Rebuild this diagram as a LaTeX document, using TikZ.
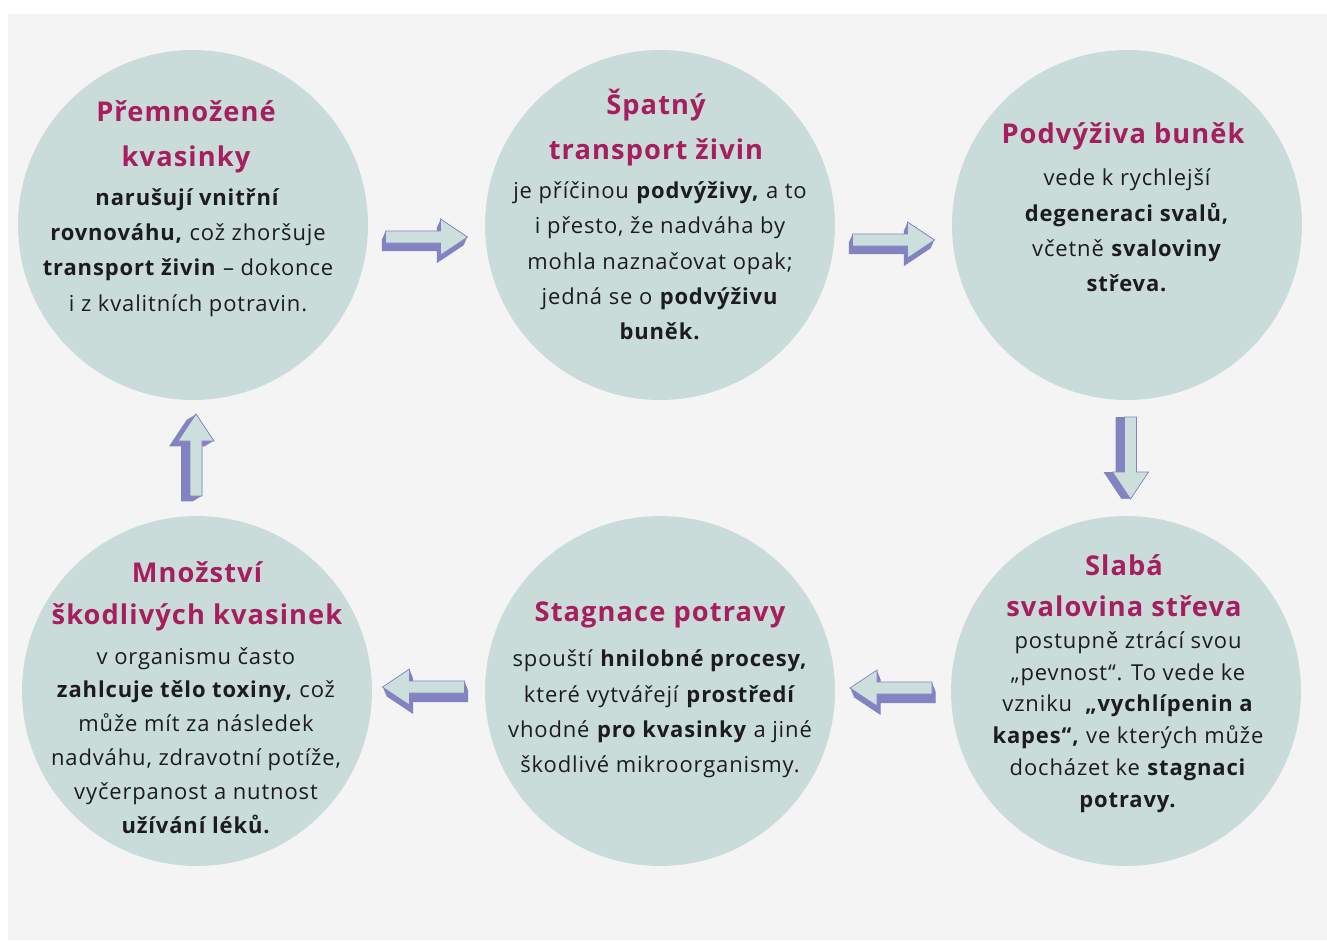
\documentclass[tikz,border=0pt]{standalone}
\usepackage{fontspec}
\setmainfont[LetterSpace=4]{Open Sans}
\usetikzlibrary{calc}

\definecolor{bgcol}{HTML}{F3F4F3}
\definecolor{bubblecol}{HTML}{C9DCDA}
\definecolor{headcol}{HTML}{A61E5E}
\definecolor{inkcol}{HTML}{1C1C1C}
\definecolor{facecol}{HTML}{CDDFDD}
\definecolor{sidecol}{HTML}{8383C2}

% 3D block arrow: centre, rotation, depth offset
\newcommand{\blockarrow}[4]{%
  \foreach \t in {0,0.1,...,1}
    \fill[sidecol, shift={($(#1)+\t*(#3,#4)$)}, rotate=#2]
      (-41,-6) -- (14,-6) -- (14,-18) -- (41,0) -- (14,18) -- (14,6) -- (-41,6) -- cycle;
  \filldraw[fill=facecol, draw=sidecol, line width=0.4pt, shift={(#1)}, rotate=#2]
      (-41,-6) -- (14,-6) -- (14,-18) -- (41,0) -- (14,18) -- (14,6) -- (-41,6) -- cycle;
}

\tikzset{
  bubble/.style={circle, fill=bubblecol, minimum size=7cm, inner sep=0pt},
  bubbletitle/.style={font=\fontsize{15.5}{#1}\selectfont\bfseries, text=headcol, align=center, inner sep=0pt},
  bubbletitle/.default=25.5,
  bubbletext/.style={font=\fontsize{12.5}{#1}\selectfont, text=inkcol, align=center, inner sep=0pt},
  bubbletext/.default=20.1
}

\begin{document}
\begin{tikzpicture}[x=0.02cm, y=-0.02cm]
\useasboundingbox (0,0) rectangle (1327,940);
\fill[bgcol] (8,14) rectangle (1327,940);

\node[bubble] (c1) at (193,225) {};
\node[bubble] (c2) at (660,225) {};
\node[bubble] (c3) at (1127,225) {};
\node[bubble] (c4) at (1126,691) {};
\node[bubble] (c5) at (660,691) {};
\node[bubble] (c6) at (197,691) {};

\node[bubbletitle] (h1) at (186,136.5) {Přemnožené\\kvasinky};
\node[bubbletext] (t1) at (188,252.5) {\textbf{narušují vnitřní}\\
  \textbf{rovnováhu,} což zhoršuje\\
  \textbf{transport živin} – dokonce\\
  i z kvalitních potravin.};

\node[bubbletitle] (h2) at (656,127.5) {Špatný\\transport živin};
\node[bubbletext] (t2) at (660,261) {je příčinou \textbf{podvýživy,} a to\\
  i přesto, že nadváha by\\
  mohla naznačovat opak;\\
  jedná se o \textbf{podvýživu}\\
  \textbf{buněk.}};

\node[bubbletitle] (h3) at (1123,136) {Podvýživa buněk};
\node[bubbletext] (t3) at (1127,230.5) {vede k rychlejší\\
  \textbf{degeneraci svalů,}\\
  včetně \textbf{svaloviny}\\
  \textbf{střeva.}};

\node[bubbletitle=23.2] (h4) at (1124,585.5) {Slabá\\svalovina střeva};
\node[bubbletext=18.1] (t4) at (1128,722) {postupně ztrácí svou\\
  „pevnost“. To vede ke\\
  vzniku\ \ \textbf{„vychlípenin a}\\
  \textbf{kapes“,} ve kterých může\\
  docházet ke \textbf{stagnaci}\\
  \textbf{potravy.}};

\node[bubbletitle] (h5) at (660,615) {Stagnace potravy};
\node[bubbletext] (t5) at (660,714) {spouští \textbf{hnilobné procesy,}\\
  které vytvářejí \textbf{prostředí}\\
  vhodné \textbf{pro kvasinky} a jiné\\
  škodlivé mikroorganismy.};

\node[bubbletitle=23.8] (h6) at (197,596) {Množství\\škodlivých kvasinek};
\node[bubbletext=19.3] (t6) at (196,740.5) {v organismu často\\
  \textbf{zahlcuje tělo toxiny,} což\\
  může mít za následek\\
  nadváhu, zdravotní potíže,\\
  vyčerpanost a nutnost\\
  \textbf{užívání léků.}};

\coordinate (a12) at ($(c1.east)!0.5!(c2.west)+(0,12)$);
\coordinate (a23) at ($(c2.east)!0.5!(c3.west)+(0,15)$);
\coordinate (a34) at ($(c3.south)!0.5!(c4.north)+(4,0)$);
\coordinate (a45) at ($(c4.west)!0.5!(c5.east)+(-2,-3)$);
\coordinate (a56) at ($(c5.west)!0.5!(c6.east)+(-5,-4)$);
\coordinate (a61) at ($(c6.north)!0.5!(c1.south)+(1,-3)$);

\blockarrow{a12}{0}{-4}{9}
\blockarrow{a23}{0}{-4}{9}
\blockarrow{a34}{-90}{-10}{0}
\blockarrow{a45}{180}{4}{10}
\blockarrow{a56}{180}{4}{10}
\blockarrow{a61}{90}{-10}{6}
\end{tikzpicture}
\end{document}
